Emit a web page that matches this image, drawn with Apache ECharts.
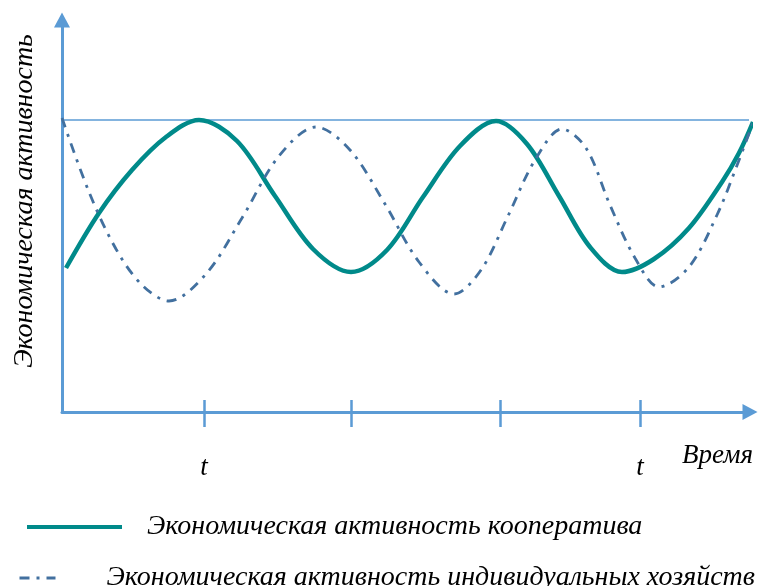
<!DOCTYPE html>
<html>
<head>
<meta charset="utf-8">
<script src="https://cdn.jsdelivr.net/npm/echarts@6/dist/echarts.min.js"></script>
<style>html,body{margin:0;padding:0;background:#fff}#c{width:758px;height:586px}</style>
</head>
<body>
<div id="c"></div>
<script>
// time (x) and activity (y) values
const coopX = [4, 37, 70, 104, 137, 175, 213, 251, 289, 325, 361, 398, 434, 465, 497, 528, 560, 592, 627, 660, 677, 691];
const coopY = [144, 199, 242, 275, 292, 271, 216, 163, 140, 162, 215, 266, 291, 268, 216, 165, 140, 153, 184, 230, 259, 290];
const indX = [0, 27, 54, 80, 107, 144, 180, 217, 254, 288, 323, 357, 392, 419, 446, 473, 500, 524, 548, 573, 597, 627, 655, 674, 692];
const indY = [294, 220, 163, 127, 111, 138, 194, 256, 285, 262, 208, 150, 118, 142, 196, 252, 283, 264, 207, 154, 125, 145, 197, 244, 292];
const refX = [0, 687];
const refY = [292, 292];
const tickValues = [142, 289, 438, 578];
const labelValues = [142, 578];
const labelText = 't';
const seriesNames = ['Экономическая активность кооператива', 'Экономическая активность индивидуальных хозяйств'];
const yName = 'Экономическая активность';
const xName = 'Время';

const zip = (a, b) => a.map((v, i) => [v, b[i]]);
const axisColor = '#5B9BD5';
const coopColor = '#008A8A';
const indColor = '#42709F';
const dashDot = [10, 7, 3, 7];
const serif = '"Liberation Serif", "DejaVu Serif", serif';

const chart = echarts.init(document.getElementById('c'));
chart.setOption({
  animation: false,
  grid: { left: 62, right: 8, top: 20, bottom: 174, outerBoundsMode: 'none', containLabel: false },
  xAxis: [{
    type: 'value', min: 0, max: 688,
    axisLine: { lineStyle: { color: axisColor, width: 3 }, symbol: ['none', 'triangle'], symbolSize: [16, 15] },
    axisTick: { show: true, inside: false, length: 15, customValues: tickValues, lineStyle: { color: axisColor, width: 2.5 } },
    axisLabel: { show: true, customValues: labelValues, formatter: () => labelText, margin: 42, color: '#000', fontFamily: serif, fontStyle: 'italic', fontSize: 27 },
    splitLine: { show: false },
    name: xName, nameLocation: 'end', nameGap: 3,
    nameTextStyle: { align: 'right', verticalAlign: 'top', padding: [30, 0, 0, 0], color: '#000', fontFamily: serif, fontStyle: 'italic', fontSize: 27 }
  }, {
    type: 'value', min: 0, max: 688, position: 'bottom',
    axisLine: { show: false },
    axisTick: { show: true, inside: true, length: 12, customValues: tickValues, lineStyle: { color: axisColor, width: 2.5 } },
    axisLabel: { show: false }, splitLine: { show: false }
  }],
  yAxis: {
    type: 'value', min: 0, max: 392,
    axisLine: { show: true, lineStyle: { color: axisColor, width: 3 }, symbol: ['none', 'triangle'], symbolSize: [16, 15] },
    axisTick: { show: false }, axisLabel: { show: false }, splitLine: { show: false },
    name: yName, nameLocation: 'middle', nameGap: 23, nameRotate: 90,
    nameTextStyle: { color: '#000', fontFamily: serif, fontStyle: 'italic', fontSize: 28, padding: [0, 0, 0, 30] }
  },
  legend: [{
    data: [seriesNames[0]], left: 20, top: 508, itemWidth: 95, itemHeight: 14,
    itemStyle: { opacity: 0 }, lineStyle: { width: 4 },
    textStyle: { color: '#000', fontFamily: serif, fontStyle: 'italic', fontSize: 28, padding: [0, 0, 0, 20] }
  }, {
    data: [seriesNames[1]], left: 13, top: 559, itemWidth: 36, itemHeight: 14,
    itemStyle: { opacity: 0 }, lineStyle: { width: 3 },
    textStyle: { color: '#000', fontFamily: serif, fontStyle: 'italic', fontSize: 28, padding: [0, 0, 0, 46] }
  }],
  series: [{
    name: 'ref', type: 'line', data: zip(refX, refY), symbol: 'none',
    lineStyle: { color: axisColor, width: 1.3 }, silent: true
  }, {
    name: seriesNames[0], type: 'line', data: zip(coopX, coopY), smooth: 0.33, symbol: 'none', showSymbol: false, clip: false,
    itemStyle: { color: coopColor },
    lineStyle: { color: coopColor, width: 4.5 }
  }, {
    name: seriesNames[1], type: 'line', data: zip(indX, indY), smooth: 0.33, symbol: 'none', showSymbol: false, clip: false,
    itemStyle: { color: indColor },
    lineStyle: { color: indColor, width: 2.8, type: dashDot }
  }]
});
</script>
</body>
</html>
